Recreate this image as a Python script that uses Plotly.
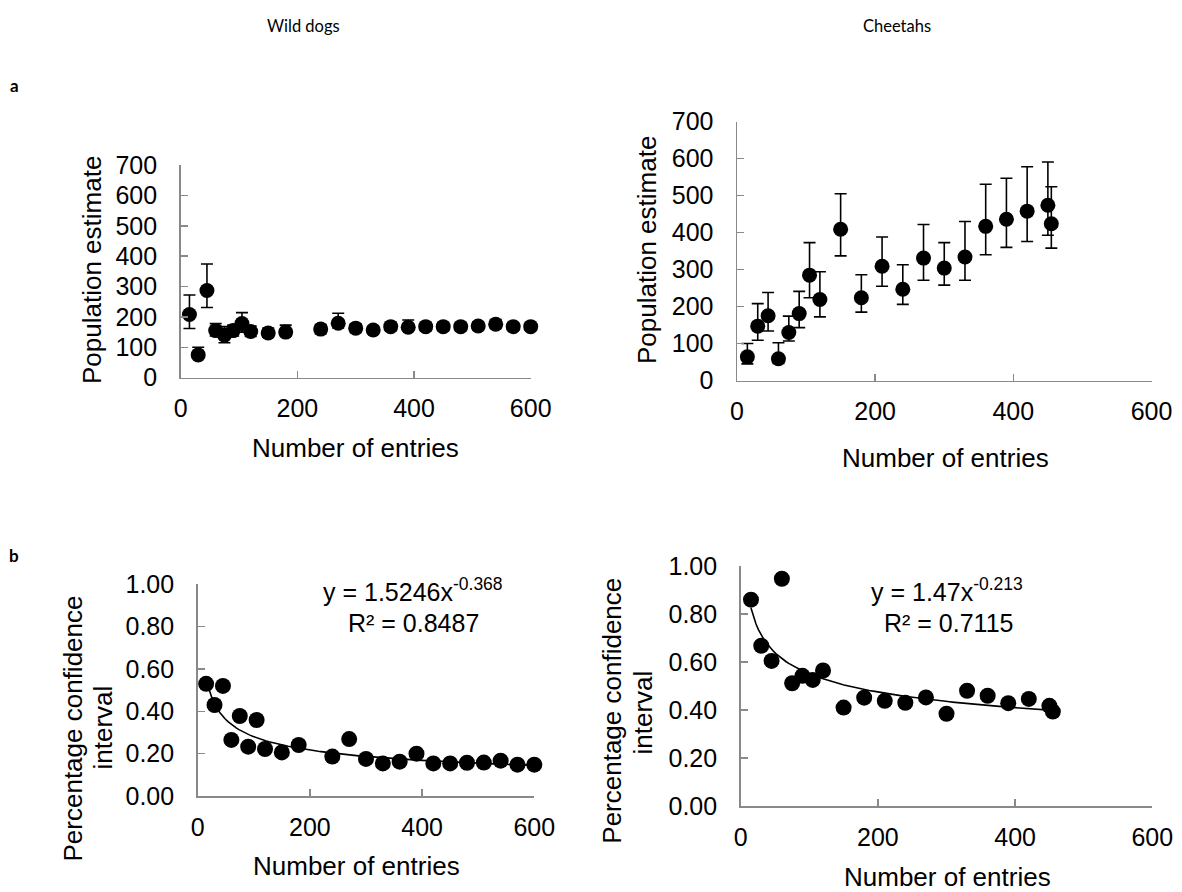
import plotly.graph_objects as go

W, H = 1182, 892

# ---------------- data ----------------
dog_x = [15, 30, 45, 60, 75, 90, 105, 120, 150, 180, 240, 270, 300, 330, 360, 390, 420, 450, 480, 510, 540, 570, 600]
dog_est = [208, 75, 287, 155, 140, 155, 178, 152, 147, 150, 160, 179, 163, 157, 168, 166, 168, 168, 168, 170, 176, 168, 168]
dog_err_up = [64, 25, 87, 23, 28, 18, 36, 18, 16, 23, 15, 33, 14, 12, 14, 24, 13, 13, 13, 14, 15, 13, 13]
dog_err_dn = [46, 8, 56, 18, 25, 18, 28, 16, 14, 13, 15, 15, 14, 12, 13, 9, 13, 13, 13, 13, 14, 12, 12]
dog_pci = [0.53, 0.43, 0.52, 0.265, 0.378, 0.233, 0.359, 0.222, 0.206, 0.241, 0.186, 0.269, 0.175,
           0.154, 0.162, 0.200, 0.154, 0.154, 0.157, 0.158, 0.167, 0.148, 0.148]

cheetah_x = [15, 30, 45, 60, 75, 90, 105, 120, 150, 180, 210, 240, 270, 300, 330, 360, 390, 420, 450, 455]
cheetah_est = [64, 147, 175, 59, 130, 181, 285, 219, 409, 224, 309, 247, 331, 304, 334, 417, 436, 458, 474, 424]
cheetah_err_up = [36, 61, 63, 43, 44, 60, 88, 75, 96, 62, 79, 66, 91, 69, 96, 114, 111, 120, 117, 100]
cheetah_err_dn = [19, 38, 41, 13, 23, 38, 61, 47, 72, 39, 54, 41, 60, 46, 63, 77, 76, 82, 81, 66]
cheetah_pci = [0.86, 0.668, 0.605, 0.947, 0.512, 0.543, 0.526, 0.565, 0.411, 0.452, 0.439, 0.431, 0.453,
               0.385, 0.481, 0.460, 0.429, 0.447, 0.418, 0.394]

# power trendline coefficients (as printed on the chart)
dog_fit = (1.5246, -0.368, "0.8487")
cheetah_fit = (1.47, -0.213, "0.7115")

x_ticks = [0, 200, 400, 600]
pop_ticks = [0, 100, 200, 300, 400, 500, 600, 700]
pci_ticks = [0.0, 0.2, 0.4, 0.6, 0.8, 1.0]

# ---------------- layout helpers ----------------
FONT = "Liberation Sans, Arial, sans-serif"
AXIS_GREY = "#898989"


def fx(px):
    return px / W


def fy(py):
    return 1 - py / H


# plot areas in pixels: (left, right, top, bottom)
areas = {
    1: (180.7, 530.7, 165.0, 377.7),
    2: (737.0, 1151.5, 121.7, 380.5),
    3: (197.7, 534.3, 584.3, 796.0),
    4: (740.7, 1152.3, 566.0, 806.3),
}

fig = go.Figure()


def trend(fit, xs):
    a, b, _ = fit
    lo, hi = min(xs), max(xs)
    n = 120
    xx = [lo + (hi - lo) * i / n for i in range(n + 1)]
    yy = [a * v ** b for v in xx]
    return xx, yy


# panel a-left
fig.add_trace(go.Scatter(
    x=dog_x, y=dog_est, mode="markers", xaxis="x", yaxis="y",
    marker=dict(size=15, color="black"), cliponaxis=False,
    error_y=dict(type="data", symmetric=False, array=dog_err_up, arrayminus=dog_err_dn,
                 color="black", thickness=1.6, width=6),
    showlegend=False))

# panel a-right
fig.add_trace(go.Scatter(
    x=cheetah_x, y=cheetah_est, mode="markers", xaxis="x2", yaxis="y2",
    marker=dict(size=15, color="black"), cliponaxis=False,
    error_y=dict(type="data", symmetric=False, array=cheetah_err_up, arrayminus=cheetah_err_dn,
                 color="black", thickness=1.6, width=6),
    showlegend=False))

# panel b-left
tx, ty = trend(dog_fit, dog_x)
fig.add_trace(go.Scatter(x=tx, y=ty, mode="lines", xaxis="x3", yaxis="y3",
                         line=dict(color="black", width=1.6), showlegend=False, cliponaxis=False))
fig.add_trace(go.Scatter(x=dog_x, y=dog_pci, mode="markers", xaxis="x3", yaxis="y3",
                         marker=dict(size=16, color="black"), cliponaxis=False, showlegend=False))

# panel b-right
tx, ty = trend(cheetah_fit, cheetah_x)
fig.add_trace(go.Scatter(x=tx, y=ty, mode="lines", xaxis="x4", yaxis="y4",
                         line=dict(color="black", width=1.6), showlegend=False, cliponaxis=False))
fig.add_trace(go.Scatter(x=cheetah_x, y=cheetah_pci, mode="markers", xaxis="x4", yaxis="y4",
                         marker=dict(size=16, color="black"), cliponaxis=False, showlegend=False))

layout = dict(
    width=W, height=H, autosize=False,
    margin=dict(l=0, r=0, t=0, b=0, pad=0),
    paper_bgcolor="white", plot_bgcolor="white",
    font=dict(family=FONT, color="black", size=25),
    showlegend=False,
)

for i in range(1, 5):
    l, r, t, b = areas[i]
    xname = "xaxis" if i == 1 else f"xaxis{i}"
    yname = "yaxis" if i == 1 else f"yaxis{i}"
    xa = "x" if i == 1 else f"x{i}"
    ya = "y" if i == 1 else f"y{i}"
    layout[xname] = dict(
        domain=[fx(l), fx(r)], anchor=ya, range=[0, 600], tickvals=x_ticks, automargin=False,
        showline=True, linecolor=AXIS_GREY, linewidth=1.5, showgrid=False, zeroline=False,
        ticks="inside", ticklen=7, tickcolor=AXIS_GREY, tickwidth=1.5,
        ticklabelstandoff=8, tickfont=dict(size=25, family=FONT, color="black"))
    if i <= 2:
        yrange, yticks, ytext = [0, 700], pop_ticks, [str(v) for v in pop_ticks]
    else:
        yrange, yticks, ytext = [0, 1], pci_ticks, [f"{v:.2f}" for v in pci_ticks]
    layout[yname] = dict(
        domain=[fy(b), fy(t)], anchor=xa, range=yrange, tickvals=yticks, ticktext=ytext,
        automargin=False,
        showline=True, linecolor=AXIS_GREY, linewidth=1.5, showgrid=False, zeroline=False,
        ticks="inside", ticklen=7, tickcolor=AXIS_GREY, tickwidth=1.5,
        ticklabelstandoff=17, tickfont=dict(size=25, family=FONT, color="black"))

fig.update_layout(**layout)


def ann(text, px, py, size=26, angle=0, family=FONT, bold=False):
    if bold:
        text = f"<b>{text}</b>"
    fig.add_annotation(text=text, x=fx(px), y=fy(py), xref="paper", yref="paper",
                       showarrow=False, textangle=angle, xanchor="center", yanchor="middle",
                       font=dict(size=size, family=family, color="black"))


HEAD = "Lato, Open Sans, sans-serif"
ann("Wild dogs", 303, 26, size=16.5, family=HEAD)
ann("Cheetahs", 897, 26, size=16.5, family=HEAD)
ann("a", 14, 85, size=17, family=HEAD, bold=True)
ann("b", 14, 555, size=17, family=HEAD, bold=True)

ann("Population estimate", 92, 270, angle=-90)
ann("Population estimate", 647, 250, angle=-90)
ann("Percentage confidence", 72.5, 729, angle=-90)
ann("interval", 102.5, 728, angle=-90)
ann("Percentage confidence", 611.7, 711, angle=-90)
ann("interval", 642.5, 713, angle=-90)

ann("Number of entries", 355, 448)
ann("Number of entries", 945, 458)
ann("Number of entries", 356, 866)
ann("Number of entries", 947, 877)

ann(f"y = {dog_fit[0]}x<sup>{dog_fit[1]}</sup>", 413, 590, size=25)
ann(f"R² = {dog_fit[2]}", 413, 623, size=25)
ann(f"y = {cheetah_fit[0]}x<sup>{cheetah_fit[1]}</sup>", 947, 590, size=25)
ann(f"R² = {cheetah_fit[2]}", 948, 623, size=25)

fig.write_html(
    "out.html",
    config={"displayModeBar": False, "staticPlot": True},
    post_script="document.documentElement.style.margin='0';document.body.style.margin='0';"
                "document.body.style.padding='0';document.body.style.overflow='hidden';",
)
